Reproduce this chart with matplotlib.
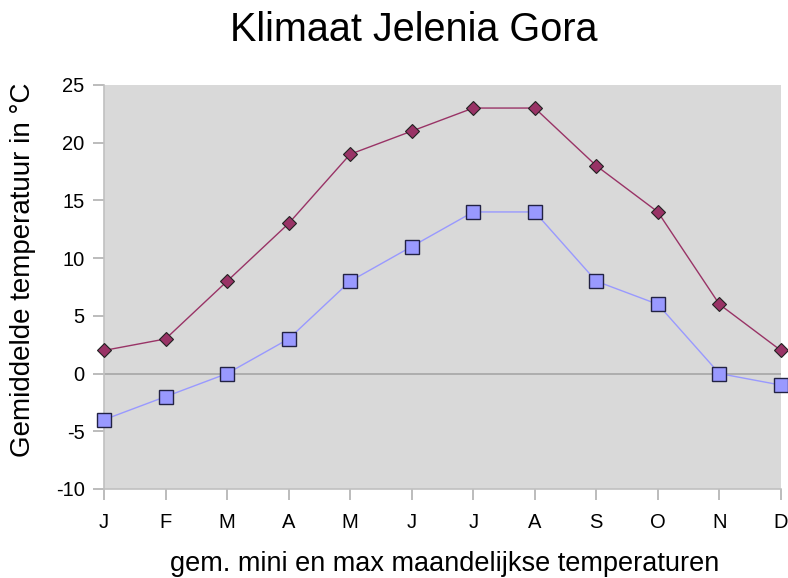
import matplotlib.pyplot as plt
import numpy as np

plt.rcParams['font.family'] = ['Liberation Sans', 'DejaVu Sans']
plt.rcParams['axes.unicode_minus'] = False

months = ["J", "F", "M", "A", "M", "J", "J", "A", "S", "O", "N", "D"]
t_max = [2, 3, 8, 13, 19, 21, 23, 23, 18, 14, 6, 2]
t_min = [-4, -2, 0, 3, 8, 11, 14, 14, 8, 6, 0, -1]

fig = plt.figure(figsize=(7.88, 5.78), dpi=100)
ax = fig.add_axes([0.132, 0.154, 0.859, 0.699])
ax.set_facecolor("#d9d9d9")

x = np.arange(len(months))
ax.axhline(0, color="#a6a6a6", lw=1.2, zorder=1)
ax.plot(x, t_max, color="#993366", lw=1, marker="D", ms=7.5,
        mfc="#993366", mec="#222222", mew=0.8, zorder=3, clip_on=False)
ax.plot(x, t_min, color="#9999ff", lw=1, marker="s", ms=10,
        mfc="#9999ff", mec="#222244", mew=1.0, zorder=3, clip_on=False)

ax.set_xlim(0, 11)
ax.set_ylim(-10, 25)
ax.set_xticks(x)
ax.set_xticklabels(months)
ax.set_yticks(np.arange(-10, 26, 5))

for s in ["top", "right"]:
    ax.spines[s].set_visible(False)
for s in ["left", "bottom"]:
    ax.spines[s].set_color("#c0c0c0")
    ax.spines[s].set_linewidth(1.2)
ax.tick_params(axis="both", color="#b0b0b0", length=8, width=1.2,
               labelsize=14.5, pad=6)
ax.tick_params(axis="x", pad=9)

fig.text(414 / 788, 1 - 30 / 578, "Klimaat Jelenia Gora", fontsize=28.5,
         ha="center", va="center")
fig.text(445 / 788, 1 - 564 / 578, "gem. mini en max maandelijkse temperaturen",
         fontsize=19.5, ha="center", va="center")
fig.text(23 / 788, 1 - 270 / 578, "Gemiddelde temperatuur in \u00b0C",
         fontsize=20, ha="center", va="center", rotation=90)

fig.savefig("out.png", dpi=100)
